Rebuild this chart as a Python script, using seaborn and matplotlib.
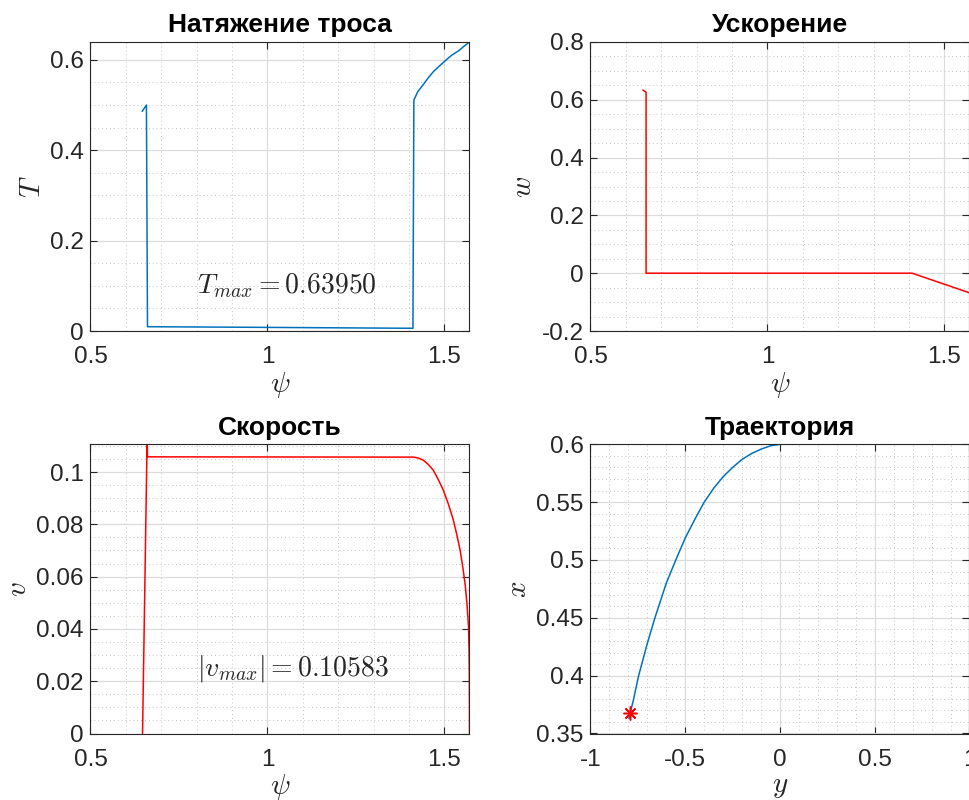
import numpy as np
import pandas as pd
import matplotlib
matplotlib.use('Agg')
import matplotlib.pyplot as plt
import seaborn as sns
from matplotlib.ticker import MultipleLocator, FuncFormatter

# Натяжение троса T(psi)
psiT = [0.646, 0.658, 0.661, 1.0, 1.411, 1.4136, 1.425, 1.44, 1.455, 1.47, 1.488,
        1.505, 1.52, 1.54, 1.555, 1.5708]
T = [0.486, 0.500, 0.0095, 0.008, 0.006, 0.511, 0.530, 0.545, 0.561, 0.575, 0.588,
     0.600, 0.610, 0.620, 0.630, 0.6395]

# Ускорение w(psi)
psiW = [0.648, 0.657, 0.657, 1.409, 1.5708]
W = [0.634, 0.626, 0.0, 0.0, -0.068]

# Скорость v(psi)
psiV = [0.647, 0.660, 0.661, 1.412, 1.425, 1.4407, 1.455, 1.469, 1.483, 1.497, 1.511,
        1.5254, 1.535, 1.5444, 1.552, 1.5585, 1.564, 1.568, 1.5695, 1.5703, 1.5706, 1.5708]
V = [0.0, 0.1125, 0.1058, 0.1057, 0.1054, 0.1045, 0.1028, 0.1006, 0.097, 0.093, 0.0878,
     0.0815, 0.076, 0.070, 0.0635, 0.057, 0.049, 0.0408, 0.032, 0.022, 0.012, 0.0]

# Траектория x(y)
trajY = [-0.797, -0.790, -0.775, -0.746, -0.70, -0.66, -0.60, -0.55, -0.50, -0.45,
         -0.40, -0.35, -0.30, -0.25, -0.20, -0.15, -0.10, -0.05, 0.0]
trajX = [0.363, 0.368, 0.378, 0.400, 0.428, 0.450, 0.480, 0.500, 0.519, 0.535,
         0.550, 0.562, 0.572, 0.580, 0.587, 0.592, 0.5958, 0.5987, 0.600]
startY, startX = -0.790, 0.368

Tmax = 0.63950
vmax = 0.10583

sns.set_theme(style='white')
plt.rcParams['font.family'] = ['Liberation Sans', 'DejaVu Sans']
plt.rcParams['mathtext.fontset'] = 'cm'

blue = '#0072BD'
red = '#FF0000'
dark = '#262626'

fig = plt.figure(figsize=(9.7, 8), dpi=100)
W_, H_ = 970.0, 800.0
def axes_at(left, top, right, bottom):
    return fig.add_axes([left / W_, 1 - bottom / H_, (right - left) / W_, (bottom - top) / H_])

axT = axes_at(90.5, 42, 469.5, 331)
axW = axes_at(590.5, 42, 969.5, 331)
axV = axes_at(90.5, 444.3, 469.5, 733.5)
axX = axes_at(590.5, 444.3, 969.5, 733.5)

fmt = FuncFormatter(lambda v, p: '%g' % (round(v, 6) + 0.0))

def style(ax, xlim, ylim, xmaj, xmin, ymaj, ymin):
    ax.set_xlim(xlim)
    ax.set_ylim(ylim)
    ax.xaxis.set_major_locator(MultipleLocator(xmaj))
    ax.xaxis.set_minor_locator(MultipleLocator(xmin))
    ax.yaxis.set_major_locator(MultipleLocator(ymaj))
    ax.yaxis.set_minor_locator(MultipleLocator(ymin))
    ax.xaxis.set_major_formatter(fmt)
    ax.yaxis.set_major_formatter(fmt)
    ax.grid(which='major', color='#dcdcdc', lw=0.9, ls='-')
    ax.grid(which='minor', color='#c4c4c4', lw=0.7, ls=(0, (1, 3)))
    ax.set_axisbelow(True)
    ax.tick_params(which='both', direction='in', top=True, right=True, bottom=True, left=True,
                   labelsize=17.5, colors=dark)
    ax.tick_params(which='major', length=5, width=0.8)
    ax.tick_params(axis='x', which='major', pad=11)
    ax.tick_params(axis='y', which='major', pad=5)
    ax.tick_params(which='minor', length=0)
    for s in ax.spines.values():
        s.set_color(dark)
        s.set_linewidth(0.8)

def titled(ax, title, xl, yl):
    ax.set_title(title, fontsize=19, fontweight='bold', color='black', pad=7)
    ax.set_xlabel(xl, fontsize=21, color=dark, labelpad=1)
    ax.set_ylabel(yl, fontsize=21, color=dark, labelpad=3)

halfpi = np.pi / 2

# 1
sns.lineplot(x=psiT, y=T, ax=axT, sort=False, estimator=None, color=blue, lw=1.1)
style(axT, (0.5, halfpi), (0, Tmax), 0.5, 0.1, 0.2, 0.05)
titled(axT, 'Натяжение троса', r'$\psi$', r'$T$')
axT.text(0.8, 0.1, r'$T_{max} = %.5f$' % Tmax, fontsize=20, va='center', ha='left')

# 2
sns.lineplot(x=psiW, y=W, ax=axW, sort=False, estimator=None, color=red, lw=1.1)
style(axW, (0.5, halfpi), (-0.2, 0.8), 0.5, 0.1, 0.2, 0.05)
titled(axW, 'Ускорение', r'$\psi$', r'$w$')

# 3
sns.lineplot(x=psiV, y=V, ax=axV, sort=False, estimator=None, color=red, lw=1.1)
style(axV, (0.5, halfpi), (0, 0.1106), 0.5, 0.1, 0.02, 0.005)
titled(axV, 'Скорость', r'$\psi$', r'$v$')
axV.text(0.8, 0.025, r'$|v_{max}| = %.5f$' % vmax, fontsize=20, va='center', ha='left')

# 4
sns.lineplot(x=trajY, y=trajX, ax=axX, sort=False, estimator=None, color=blue, lw=1.1)
axX.plot([startY], [startX], marker=(8, 2, 0), color=red, markersize=10, mew=1.1, ls='none')
style(axX, (-1, 1), (0.35, 0.6), 0.5, 0.1, 0.05, 0.01)
titled(axX, 'Траектория', r'$y$', r'$x$')

fig.savefig('out.png', dpi=100)
